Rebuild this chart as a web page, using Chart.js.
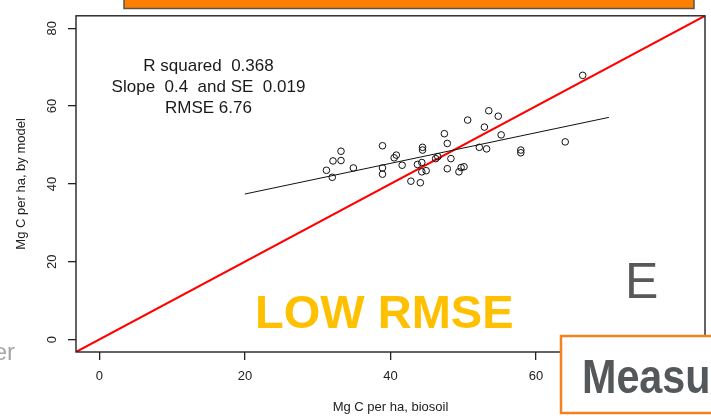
<!DOCTYPE html>
<html>
<head>
<meta charset="utf-8">
<script src="https://cdn.jsdelivr.net/npm/chart.js@4/dist/chart.umd.min.js"></script>
<style>
  html, body { margin: 0; padding: 0; background: #ffffff; }
  #wrap { width: 711px; height: 419px; position: relative; }
</style>
</head>
<body>
<div id="wrap"><canvas id="c" width="711" height="419"></canvas></div>
<script>
// ---- data ----
const measured = [31.2, 32.0, 32.1, 33.2, 33.2, 34.9, 38.9, 38.9, 38.9, 40.8,
                  40.5, 41.6, 42.8, 44.1, 44.4, 44.4, 43.7, 44.3, 44.3, 44.9,
                  46.2, 46.5, 47.4, 47.8, 48.3, 47.8, 49.4, 49.7, 50.1, 50.6,
                  52.2, 52.9, 53.2, 53.5, 54.8, 55.2, 57.9, 57.9, 64.0, 66.4];
const modelled = [43.5, 41.7, 45.9, 46.0, 48.4, 44.1, 49.8, 44.1, 42.5, 47.4,
                  46.7, 44.8, 40.7, 40.3, 49.4, 48.7, 45.0, 45.5, 43.1, 43.4,
                  46.5, 47.0, 52.9, 50.4, 46.5, 43.9, 43.1, 44.2, 44.4, 56.4,
                  49.4, 54.6, 49.0, 58.8, 57.4, 52.6, 48.7, 48.0, 50.8, 67.9];
const fitX = [20, 70];
const fitY = [37.4, 57.1];
const identityX = [-3.2, 83.2];
const identityY = [-3.2, 83.2];
const axisMin = -3.2;
const axisMax = 83.2;
const tickValues = [0, 20, 40, 60, 80];
const statLines = ['R squared  0.368', 'Slope  0.4  and SE  0.019', 'RMSE 6.76'];
const statAnchor = { x: 15, y: 70.3 };
const xTitle = 'Mg C per ha, biosoil';
const yTitle = 'Mg C per ha, by model';

const FONT = '"Liberation Sans", Arial, Helvetica, sans-serif';

const pts = measured.map((v, i) => ({ x: v, y: modelled[i] }));
const fitPts = fitX.map((v, i) => ({ x: v, y: fitY[i] }));
const idPts = identityX.map((v, i) => ({ x: v, y: identityY[i] }));

const overlay = {
  id: 'overlay',
  beforeDraw(chart) {
    const ctx = chart.ctx;
    ctx.save();
    ctx.fillStyle = '#ffffff';
    ctx.fillRect(0, 0, chart.width, chart.height);
    ctx.restore();
  },
  afterDatasetsDraw(chart) {
    const ctx = chart.ctx;
    const a = chart.chartArea;
    const xs = chart.scales.x, ys = chart.scales.y;
    ctx.save();
    // plot box
    ctx.strokeStyle = '#222';
    ctx.lineWidth = 1.4;
    ctx.strokeRect(a.left, a.top, a.right - a.left, a.bottom - a.top);
    // stats text
    ctx.fillStyle = '#1a1a1a';
    ctx.font = '17px ' + FONT;
    ctx.textAlign = 'center';
    ctx.textBaseline = 'middle';
    const cx = xs.getPixelForValue(statAnchor.x);
    const cy = ys.getPixelForValue(statAnchor.y);
    statLines.forEach((t, i) => ctx.fillText(t, cx, cy + i * 21));
    ctx.restore();
  },
  afterDraw(chart) {
    const ctx = chart.ctx;
    ctx.save();
    // LOW RMSE
    ctx.fillStyle = '#FFC000';
    ctx.font = 'bold 47px ' + FONT;
    ctx.textAlign = 'left';
    ctx.textBaseline = 'alphabetic';
    ctx.fillText('LOW RMSE', 255, 328);
    // E
    ctx.fillStyle = '#595959';
    ctx.font = '50px ' + FONT;
    ctx.fillText('E', 625, 298);
    // er (cut at left edge)
    ctx.fillStyle = '#a6a6a6';
    ctx.font = '24px ' + FONT;
    ctx.textAlign = 'right';
    ctx.fillText('er', 15, 360);
    // Measu box
    ctx.fillStyle = '#ffffff';
    ctx.fillRect(561, 336, 160, 77);
    ctx.strokeStyle = '#F5821F';
    ctx.lineWidth = 2.5;
    ctx.strokeRect(561, 336, 160, 77);
    ctx.save();
    ctx.translate(582, 393);
    ctx.scale(0.86, 1);
    ctx.fillStyle = '#54585a';
    ctx.font = 'bold 48px ' + FONT;
    ctx.textAlign = 'left';
    ctx.fillText('Measu', 0, 0);
    ctx.restore();
    // orange top bar
    ctx.fillStyle = '#FF8000';
    ctx.fillRect(124, -2, 570, 10.5);
    ctx.strokeStyle = '#555';
    ctx.lineWidth = 1.5;
    ctx.strokeRect(124, -2, 570, 10.5);
    ctx.restore();
  }
};

const tickFont = { family: FONT, size: 13 };
const titleFont = { family: FONT, size: 13 };

new Chart(document.getElementById('c'), {
  type: 'scatter',
  data: {
    datasets: [
      {
        label: 'identity',
        type: 'line',
        data: idPts,
        borderColor: '#FF0000',
        borderWidth: 2,
        pointRadius: 0,
        fill: false,
        order: 3
      },
      {
        label: 'fit',
        type: 'line',
        data: fitPts,
        borderColor: '#111',
        borderWidth: 1,
        pointRadius: 0,
        fill: false,
        order: 2
      },
      {
        label: 'points',
        data: pts,
        pointStyle: 'circle',
        pointRadius: 3.3,
        pointBorderWidth: 1,
        pointBackgroundColor: 'rgba(0,0,0,0)',
        pointBorderColor: '#111',
        order: 1
      }
    ]
  },
  options: {
    responsive: false,
    animation: false,
    devicePixelRatio: 1,
    layout: { padding: { top: 14, right: 6, left: 0, bottom: 0 } },
    plugins: {
      legend: { display: false },
      tooltip: { enabled: false },
      title: { display: false }
    },
    scales: {
      x: {
        type: 'linear',
        min: axisMin,
        max: axisMax,
        afterBuildTicks: s => { s.ticks = tickValues.map(v => ({ value: v })); },
        afterFit: s => { s.height = 67; },
        ticks: { font: tickFont, color: '#222', padding: 9, autoSkip: false, maxRotation: 0, minRotation: 0 },
        grid: { display: true, drawOnChartArea: false, drawTicks: true, tickLength: 8, color: '#222', lineWidth: 1.3 },
        border: { display: false },
        title: { display: true, text: xTitle, font: titleFont, color: '#222', padding: { top: 0, bottom: 3.5 } }
      },
      y: {
        type: 'linear',
        min: axisMin,
        max: axisMax,
        afterBuildTicks: s => { s.ticks = tickValues.map(v => ({ value: v })); },
        afterFit: s => { s.width = 76; },
        ticks: { font: tickFont, color: '#222', padding: 8, autoSkip: false, minRotation: 90, maxRotation: 90, crossAlign: 'center' },
        grid: { display: true, drawOnChartArea: false, drawTicks: true, tickLength: 8, color: '#222', lineWidth: 1.3 },
        border: { display: false },
        title: { display: true, text: yTitle, font: titleFont, color: '#222', padding: { top: 14, bottom: 0 } }
      }
    }
  },
  plugins: [overlay]
});
</script>
</body>
</html>
